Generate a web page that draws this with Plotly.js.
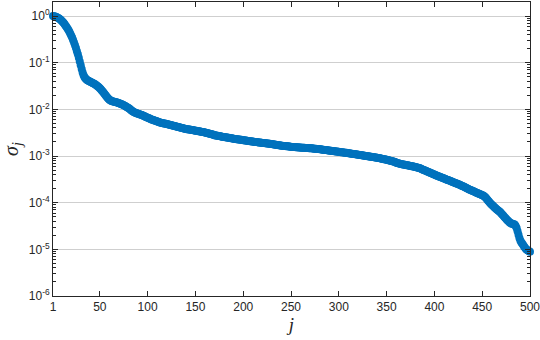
<!DOCTYPE html>
<html>
<head>
<meta charset="utf-8">
<script src="https://cdn.plot.ly/plotly-3.0.1.min.js"></script>
<style>html,body{margin:0;padding:0;background:#fff;}#chart{width:540px;height:340px;}</style>
</head>
<body>
<div id="chart"></div>
<script>
// singular values sigma_j, j = 1..500
var sigma1to100 = [
1.000,0.993,0.982,0.966,0.946,0.923,0.895,0.865,0.832,0.794,
0.755,0.715,0.673,0.631,0.589,0.547,0.506,0.465,0.424,0.384,
0.345,0.308,0.272,0.238,0.206,0.177,0.151,0.127,0.106,0.0883,
0.0735,0.0617,0.0537,0.0490,0.0457,0.0437,0.0422,0.0409,0.0398,0.0389,
0.0381,0.0373,0.0364,0.0355,0.0345,0.0334,0.0322,0.0309,0.0296,0.0283,
0.0269,0.0255,0.0241,0.0227,0.0213,0.0200,0.0188,0.0177,0.0168,0.0161,
0.0156,0.0152,0.0150,0.0148,0.0146,0.0144,0.0142,0.0140,0.0138,0.0136,
0.0134,0.0131,0.0128,0.0125,0.0122,0.0119,0.0116,0.0113,0.0110,0.0107,
0.0103,0.0099,0.0095,0.0092,0.0089,0.0087,0.0085,0.0084,0.0082,0.0081,
0.0080,0.0078,0.0077,0.0076,0.0074,0.0072,0.0071,0.0069,0.0068,0.0066];
var sigma101to200 = [
0.0065,0.0064,0.0062,0.0061,0.0060,0.0059,0.0058,0.0057,0.0056,0.0055,
0.0054,0.0053,0.0052,0.00515,0.0051,0.00505,0.0050,0.00495,0.0049,0.00485,
0.0048,0.00474,0.00468,0.00462,0.00456,0.0045,0.00445,0.0044,0.00435,0.0043,
0.00425,0.0042,0.00415,0.0041,0.00405,0.0040,0.00395,0.0039,0.00385,0.0038,
0.00377,0.00374,0.00371,0.00368,0.00365,0.00362,0.00359,0.00356,0.00353,0.0035,
0.00347,0.00344,0.00341,0.00338,0.00335,0.00332,0.00329,0.00326,0.00323,0.0032,
0.00316,0.00312,0.00308,0.00304,0.0030,0.00296,0.00292,0.00288,0.00284,0.0028,
0.00277,0.00275,0.00272,0.0027,0.00267,0.00265,0.00262,0.0026,0.00257,0.00255,
0.00253,0.00251,0.00249,0.00247,0.00245,0.00243,0.00241,0.00239,0.00237,0.00235,
0.00233,0.00232,0.0023,0.00228,0.00227,0.00225,0.00224,0.00222,0.0022,0.00219];
var sigma201to300 = [
0.00217,0.00216,0.00214,0.00213,0.00211,0.0021,0.00208,0.00207,0.00205,0.00204,
0.00203,0.00201,0.0020,0.00199,0.00198,0.00196,0.00195,0.00194,0.00192,0.00191,
0.0019,0.00189,0.00188,0.00187,0.00186,0.00185,0.00184,0.00183,0.00182,0.0018,
0.00179,0.00177,0.00176,0.00175,0.00173,0.00172,0.00171,0.0017,0.00168,0.00167,
0.00166,0.00165,0.00164,0.00163,0.00162,0.00161,0.00161,0.0016,0.00159,0.00158,
0.00157,0.00157,0.00156,0.00156,0.00155,0.00154,0.00154,0.00153,0.00153,0.00152,
0.00151,0.00151,0.0015,0.0015,0.00149,0.00149,0.00148,0.00148,0.00147,0.00147,
0.00146,0.00146,0.00145,0.00144,0.00144,0.00143,0.00142,0.00142,0.00141,0.0014,
0.00139,0.00138,0.00137,0.00136,0.00135,0.00135,0.00134,0.00133,0.00132,0.00131,
0.0013,0.00129,0.00128,0.00128,0.00127,0.00126,0.00125,0.00125,0.00124,0.00123];
var sigma301to400 = [
0.00122,0.00121,0.0012,0.0012,0.00119,0.00118,0.00117,0.00117,0.00116,0.00115,
0.00114,0.00113,0.00112,0.00112,0.00111,0.0011,0.00109,0.00109,0.00108,0.00107,
0.00106,0.00105,0.00105,0.00104,0.00103,0.00102,0.00101,0.0010,0.000995,0.00099,
0.000983,0.000976,0.000969,0.000962,0.000955,0.000948,0.000941,0.000934,0.000927,0.00092,
0.000911,0.000902,0.000893,0.000884,0.000875,0.000866,0.000857,0.000848,0.000839,0.00083,
0.00082,0.00081,0.0008,0.00079,0.00078,0.00077,0.00076,0.00075,0.00074,0.00072,
0.00071,0.0007,0.00069,0.00068,0.000674,0.000668,0.000662,0.000656,0.00065,0.000644,
0.000638,0.000632,0.000626,0.00062,0.000614,0.000607,0.0006,0.000593,0.000586,0.000579,
0.000572,0.000565,0.000558,0.000551,0.000544,0.000533,0.000522,0.000511,0.000501,0.000491,
0.000481,0.000471,0.000462,0.000452,0.000443,0.000434,0.000425,0.000417,0.000408,0.0004];
var sigma401to500 = [
0.000392,0.000384,0.000376,0.000369,0.000362,0.000355,0.000349,0.000342,0.000336,0.00033,
0.000324,0.000318,0.000312,0.000306,0.000301,0.000295,0.00029,0.000284,0.000279,0.000274,
0.000269,0.000264,0.000259,0.000254,0.000249,0.000245,0.00024,0.000234,0.000229,0.000224,
0.000219,0.000214,0.000209,0.000204,0.000199,0.000195,0.00019,0.000186,0.000182,0.000178,
0.000175,0.000171,0.000168,0.000164,0.000161,0.000158,0.000154,0.000151,0.000148,0.000145,
0.000142,0.000138,0.000133,0.000126,0.000119,0.000112,0.000106,0.0001,0.0000953,0.0000908,
0.0000866,0.0000826,0.0000788,0.0000757,0.0000727,0.0000698,0.000067,0.0000645,0.000062,0.0000588,
0.0000557,0.0000529,0.0000502,0.0000477,0.0000452,0.0000428,0.0000408,0.0000388,0.000037,0.0000362,
0.0000356,0.0000351,0.0000346,0.000034,0.0000318,0.0000285,0.0000245,0.0000205,0.0000172,0.0000152,
0.0000141,0.0000131,0.0000122,0.0000114,0.0000107,0.0000101,0.0000097,0.0000094,0.0000091,0.0000089];

var xTickVals = [1, 50, 100, 150, 200, 250, 300, 350, 400, 450, 500];
var xTickText = ['1', '50', '100', '150', '200', '250', '300', '350', '400', '450', '500'];
var yTickVals = [1e-6, 1e-5, 1e-4, 1e-3, 1e-2, 1e-1, 1];
var yTickText = ['10<sup>-6</sup>', '10<sup>-5</sup>', '10<sup>-4</sup>', '10<sup>-3</sup>', '10<sup>-2</sup>', '10<sup>-1</sup>', '10<sup>0</sup>'];

var sigma = [].concat(sigma1to100, sigma101to200, sigma201to300, sigma301to400, sigma401to500);
var jIdx = [];
for (var i = 0; i < sigma.length; i++) jIdx.push(i + 1);

var axisColor = '#262626';
var trace = {
  type: 'scatter',
  mode: 'markers',
  x: jIdx,
  y: sigma,
  marker: {color: '#0072BD', size: 8, line: {width: 0}},
  hoverinfo: 'skip',
  cliponaxis: false
};

var layout = {
  width: 540, height: 340,
  margin: {l: 53, r: 10, t: 2, b: 44, pad: 0},
  paper_bgcolor: '#ffffff',
  plot_bgcolor: '#ffffff',
  showlegend: false,
  font: {family: 'Liberation Sans, Arial, sans-serif', size: 12, color: axisColor},
  xaxis: {
    type: 'linear',
    range: [1, 500],
    tickmode: 'array', tickvals: xTickVals, ticktext: xTickText,
    ticks: 'inside', ticklen: 5, tickwidth: 1, tickcolor: axisColor,
    showline: true, linecolor: axisColor, linewidth: 1, mirror: 'ticks',
    showgrid: false, zeroline: false,
    ticklabeloverflow: 'allow',
    tickfont: {size: 12, color: axisColor},
    title: {text: '<i>j</i>', font: {family: 'Liberation Serif, DejaVu Serif, serif', size: 19, color: axisColor}, standoff: 3}
  },
  yaxis: {
    type: 'log',
    range: [-6, 0.30103],
    tickmode: 'array', tickvals: yTickVals, ticktext: yTickText,
    ticks: 'inside', ticklen: 5, tickwidth: 1, tickcolor: axisColor,
    minor: {ticks: 'inside', ticklen: 3, tickwidth: 1, tickcolor: axisColor, dtick: 'D1', showgrid: false},
    showline: true, linecolor: axisColor, linewidth: 1, mirror: 'allticks',
    showgrid: true, gridcolor: '#cfcfcf', gridwidth: 1, zeroline: false,
    ticklabeloverflow: 'allow',
    tickfont: {size: 12, color: axisColor},
    title: {text: '<i>σ<sub>j</sub></i>', font: {family: 'Liberation Serif, DejaVu Serif, serif', size: 20, color: axisColor}, standoff: 6}
  }
};

Plotly.newPlot('chart', [trace], layout, {staticPlot: true, displayModeBar: false});
</script>
</body>
</html>
